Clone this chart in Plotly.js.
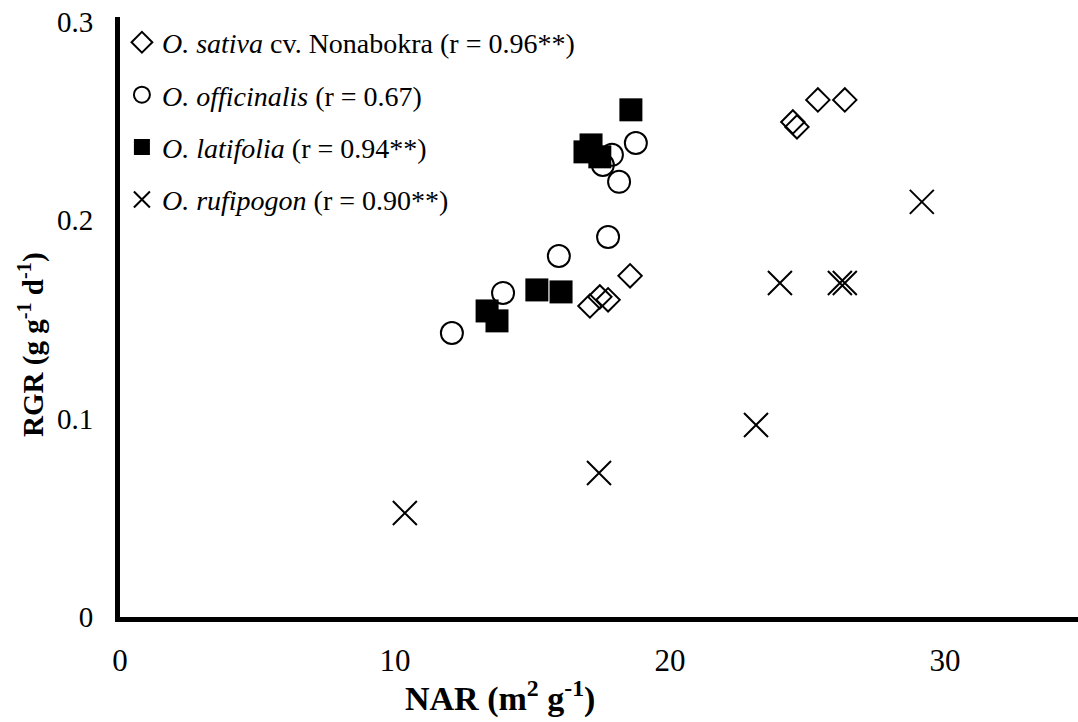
<!DOCTYPE html>
<html>
<head>
<meta charset="utf-8">
<script src="https://cdn.plot.ly/plotly-3.0.1.min.js"></script>
<style>html,body{margin:0;padding:0;background:#fff;}#chart{width:1078px;height:722px;}</style>
</head>
<body>
<div id="chart"></div>
<script>
// O. sativa cv. Nonabokra
const sativaNAR = [25.38, 26.36, 24.47, 24.62, 18.55, 17.45, 17.75, 17.09];
const sativaRGR = [0.2607, 0.2607, 0.2496, 0.2471, 0.1720, 0.1614, 0.1599, 0.1568];
// O. officinalis
const officinalisNAR = [18.76, 17.89, 17.56, 18.15, 17.75, 15.96, 13.93, 12.07];
const officinalisRGR = [0.2390, 0.2330, 0.2279, 0.2194, 0.1916, 0.1820, 0.1634, 0.1432];
// O. latifolia
const latifoliaNAR = [18.58, 17.13, 16.91, 17.45, 15.16, 16.04, 13.35, 13.71];
const latifoliaRGR = [0.2557, 0.2380, 0.2345, 0.2320, 0.1649, 0.1639, 0.1543, 0.1493];
// O. rufipogon
const rufipogonNAR = [29.16, 24.00, 26.18, 26.36, 23.13, 17.42, 10.36];
const rufipogonRGR = [0.2093, 0.1684, 0.1684, 0.1684, 0.0968, 0.0726, 0.0524];

const seriesNames = [
  '<i>O. sativa</i> cv. Nonabokra (r = 0.96**)',
  '<i>O. officinalis</i> (r = 0.67)',
  '<i>O. latifolia</i> (r = 0.94**)',
  '<i>O. rufipogon</i> (r = 0.90**)'
];
const xTickVals = [0, 10, 20, 30];
const xTickText = ['0', '10', '20', '30'];
const yTickVals = [0, 0.1, 0.2, 0.3];
const yTickText = ['0', '0.1', '0.2', '0.3'];

const FONT = 'Liberation Serif, Times New Roman, serif';

const traces = [
  {x: sativaNAR, y: sativaRGR, name: seriesNames[0], legendgroup: 'a', mode: 'markers', type: 'scatter',
   marker: {symbol: 'diamond-open', size: 18, color: '#000', line: {width: 2, color: '#000'}}},
  {x: officinalisNAR, y: officinalisRGR, name: seriesNames[1], legendgroup: 'b', mode: 'markers', type: 'scatter',
   marker: {symbol: 'circle-open', size: 22, color: '#000', line: {width: 2, color: '#000'}}},
  {x: latifoliaNAR, y: latifoliaRGR, name: seriesNames[2], legendgroup: 'c', mode: 'markers', type: 'scatter',
   marker: {symbol: 'square', size: 23, color: '#000', line: {width: 0}}},
  {x: rufipogonNAR, y: rufipogonRGR, name: seriesNames[3], legendgroup: 'd', mode: 'markers', type: 'scatter',
   marker: {symbol: 'x-thin-open', size: 24, color: '#000', line: {width: 2, color: '#000'}}}
];

const layout = {
  width: 1078, height: 722,
  margin: {l: 120, r: 0, t: 17, b: 105},
  paper_bgcolor: '#fff', plot_bgcolor: '#fff',
  font: {family: FONT, color: '#000'},
  showlegend: true,
  legend: {x: 0.002, y: 0.999, xanchor: 'left', yanchor: 'top', bgcolor: 'rgba(0,0,0,0)',
           font: {family: FONT, size: 28, color: '#000'}, tracegroupgap: 13, itemwidth: 30},
  xaxis: {range: [0, 34.84], tickvals: xTickVals, ticktext: xTickText, showgrid: false, zeroline: false,
          showline: true, linecolor: '#000', linewidth: 5, ticks: '', ticklabelstandoff: 12,
          tickfont: {family: FONT, size: 31, color: '#000'}},
  yaxis: {range: [0, 0.3025], tickvals: yTickVals, ticktext: yTickText, showgrid: false, zeroline: false,
          showline: true, linecolor: '#000', linewidth: 5, ticks: '', ticklabelstandoff: 16,
          tickfont: {family: FONT, size: 29, color: '#000'}},
  annotations: [
    {text: '<b>NAR (m<sup>2</sup> g<sup>-1</sup>)</b>', xref: 'paper', yref: 'paper', x: (500-120)/958, y: -0.133,
     xanchor: 'center', yanchor: 'middle', showarrow: false, font: {family: FONT, size: 34, color: '#000'}},
    {text: '<b>RGR (g g<sup>-1</sup> d<sup>-1</sup>)</b>', xref: 'paper', yref: 'paper', x: -0.093, y: (617-345)/600,
     xanchor: 'center', yanchor: 'middle', textangle: -90, showarrow: false, font: {family: FONT, size: 29, color: '#000'}}
  ]
};

Plotly.newPlot('chart', traces, layout, {staticPlot: true, displayModeBar: false});
</script>
</body>
</html>
